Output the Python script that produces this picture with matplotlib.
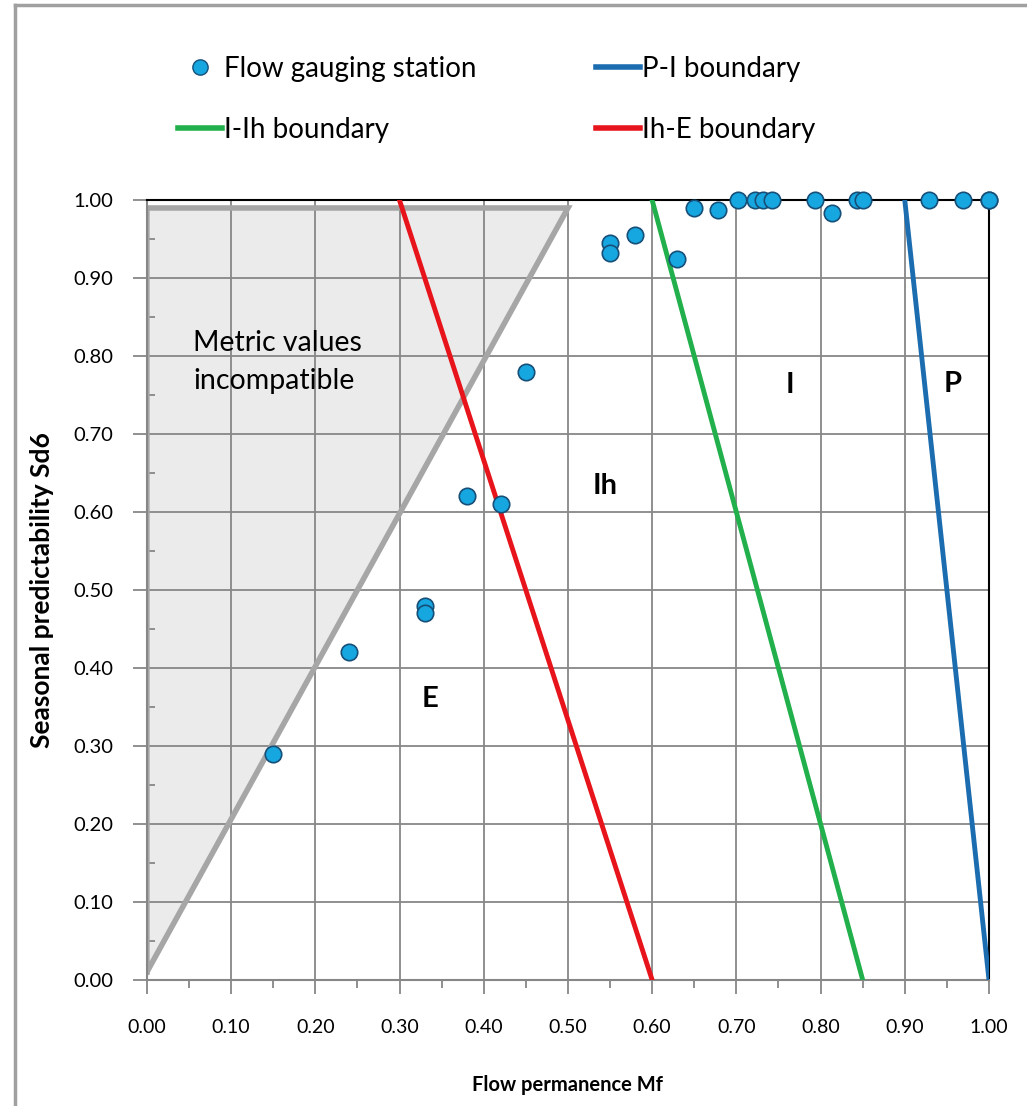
import numpy as np
import matplotlib
matplotlib.use('Agg')
import matplotlib.pyplot as plt
from matplotlib.lines import Line2D

plt.rcParams['font.family'] = ['Lato', 'DejaVu Sans']

# flow gauging stations (Mf, Sd6)
mf = [0.15, 0.24, 0.33, 0.33, 0.38, 0.42, 0.45, 0.55, 0.55, 0.58, 0.63,
      0.65, 0.678, 0.702, 0.722, 0.732, 0.742, 0.793, 0.813, 0.843, 0.85,
      0.929, 0.969, 1.0, 1.0]
sd6 = [0.29, 0.42, 0.48, 0.47, 0.62, 0.61, 0.78, 0.945, 0.932, 0.955, 0.924,
       0.99, 0.988, 1.0, 1.0, 1.0, 1.0, 1.0, 0.983, 1.0, 1.0,
       1.0, 1.0, 1.0, 1.0]

# regime boundaries
pi_x = [0.90, 1.00]
pi_y = [1.0, 0.0]
iih_x = [0.60, 0.85]
iih_y = [1.0, 0.0]
ihe_x = [0.30, 0.60]
ihe_y = [1.0, 0.0]

# incompatible region outline
inc_x = [0.0, 0.0, 0.5, 0.0]
inc_y = [0.01, 0.99, 0.99, 0.01]

regions = ['E', 'Ih', 'I', 'P']
reg_x = [0.336, 0.544, 0.764, 0.957]
reg_y = [0.36, 0.633, 0.763, 0.764]

fig = plt.figure(figsize=(10.27, 11.06), dpi=100)
ax = fig.add_axes([0.143, 0.114, 0.820, 0.705])

grid_c = '#878787'
for v in np.arange(0.1, 1.0, 0.1):
    ax.axvline(v, color=grid_c, lw=1.3, zorder=1)
    ax.axhline(v, color=grid_c, lw=1.3, zorder=1)

ax.fill(inc_x, inc_y, color='#ebebeb', zorder=0.5)
ax.plot(inc_x, inc_y, color='#a6a6a6', lw=4, zorder=2, solid_joinstyle='miter')

ax.plot(ihe_x, ihe_y, color='#e8141b', lw=3.5, zorder=3)
ax.plot(iih_x, iih_y, color='#21b04b', lw=3.5, zorder=3)
ax.plot(pi_x, pi_y, color='#1b6db0', lw=3.5, zorder=3)

ax.scatter(mf, sd6, s=140, color='#16a6e0', edgecolor='#164f78', lw=1.2,
           zorder=5, clip_on=False)

for r, x, y in zip(regions, reg_x, reg_y):
    ax.text(x, y, r, fontsize=21, fontweight='bold', ha='center', va='center',
            zorder=4)
ax.text(0.055, 0.817, 'Metric values', fontsize=20.5, va='center', zorder=4)
ax.text(0.055, 0.768, 'incompatible', fontsize=20.5, va='center', zorder=4)

ax.set_xlim(0, 1)
ax.set_ylim(0, 1)
ticks = np.arange(0, 1.01, 0.1)
ax.set_xticks(ticks)
ax.set_yticks(ticks)
ax.set_xticks(np.arange(0.05, 1.0, 0.1), minor=True)
ax.set_yticks(np.arange(0.05, 1.0, 0.1), minor=True)
ax.set_xticklabels(['%.2f' % v for v in ticks], fontsize=14)
ax.set_yticklabels(['%.2f' % v for v in ticks], fontsize=14.5)
ax.tick_params(which='major', direction='out', length=10, width=1.3,
               color=grid_c)
ax.tick_params(axis='y', which='minor', direction='in', length=6, width=1.3,
               color=grid_c)
ax.tick_params(axis='x', which='minor', direction='out', length=6, width=1.3,
               color=grid_c)
ax.tick_params(axis='x', which='major', pad=18)
ax.tick_params(axis='y', which='major', pad=14)
for s in ['top', 'right']:
    ax.spines[s].set_color('black')
    ax.spines[s].set_linewidth(1.5)
for s in ['left', 'bottom']:
    ax.spines[s].set_color(grid_c)
    ax.spines[s].set_linewidth(1.5)

ax.set_xlabel('Flow permanence Mf', fontsize=14.5, fontweight='bold', labelpad=28)
ax.set_ylabel('Seasonal predictability Sd6', fontsize=19, fontweight='bold',
              labelpad=14)

h_sta = Line2D([], [], marker='o', ls='none', ms=11, mfc='#16a6e0', mec='#164f78')
h_pi = Line2D([], [], color='#1b6db0', lw=4)
h_iih = Line2D([], [], color='#21b04b', lw=4)
h_ihe = Line2D([], [], color='#e8141b', lw=4)
# legend fills column by column
fig.legend([h_sta, h_iih, h_pi, h_ihe],
           ['Flow gauging station', 'I-Ih boundary', 'P-I boundary', 'Ih-E boundary'],
           ncol=2, loc='upper left', bbox_to_anchor=(0.149, 0.972),
           frameon=False, fontsize=20, handlelength=1.6, handletextpad=0.05,
           columnspacing=4.3, labelspacing=1.25)

# chart border
fig.add_artist(Line2D([15 / 1027, 15 / 1027], [0, 1 - 5 / 1106],
                      color='#a0a0a0', lw=2.5, transform=fig.transFigure))
fig.add_artist(Line2D([15 / 1027, 1], [1 - 5 / 1106, 1 - 5 / 1106],
                      color='#a0a0a0', lw=2.5, transform=fig.transFigure))

fig.savefig('out.png', dpi=100)
